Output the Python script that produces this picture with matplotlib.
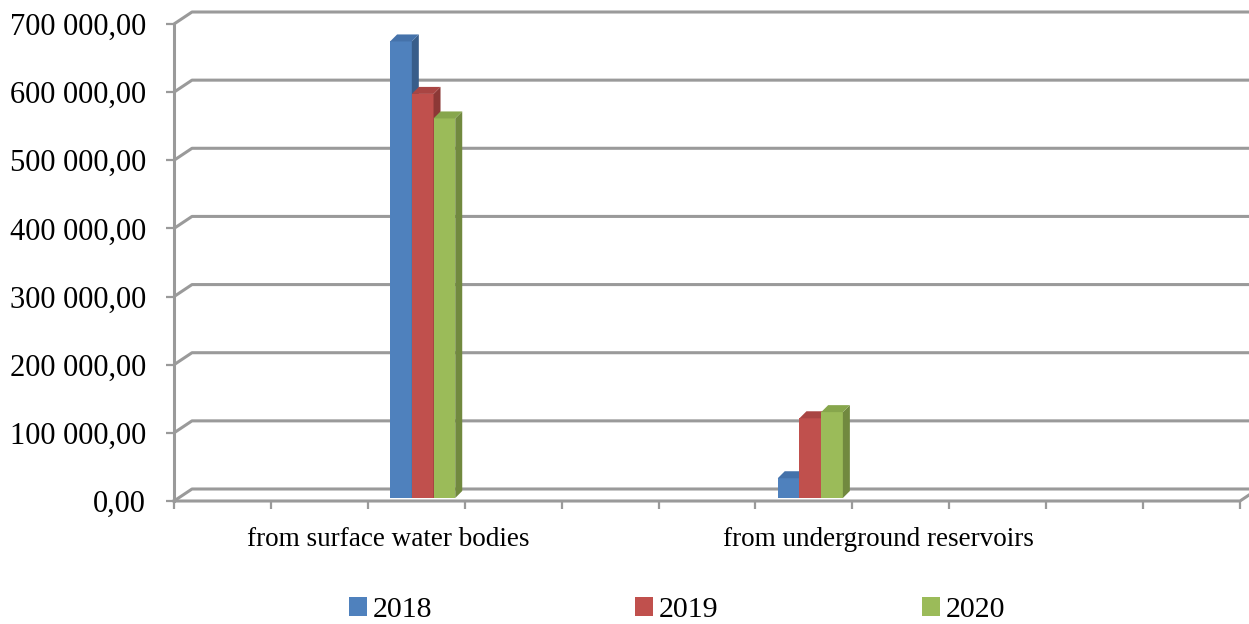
import numpy as np
import matplotlib
matplotlib.use('Agg')
import matplotlib.pyplot as plt
import matplotlib.transforms as mtransforms
from matplotlib.patches import Polygon, Patch

plt.rcParams['font.family'] = ['Liberation Serif', 'DejaVu Serif']

# data
categories = ['from surface water bodies', 'from underground reservoirs']
cat_slots = [2, 6]            # slot of each cluster on the 11-slot category axis
label_pos = [2.21, 7.27]      # where excel put the category labels
years = ['2018', '2019', '2020']
values_2018 = [670000, 29000]
values_2019 = [593000, 117000]
values_2020 = [557000, 126000]
series = [values_2018, values_2019, values_2020]
yticks = np.arange(0, 700001, 100000)
ytick_labels = ['{:,.2f}'.format(v).replace(',', ' ').replace('.', ',') for v in yticks]

colors = ['#4F81BD', '#C0504D', '#9BBB59']
side_colors = ['#385D8A', '#8C3836', '#71893F']
top_colors = ['#4572AA', '#A94543', '#87A64C']
grid_col = '#9a9a9a'

fig = plt.figure(figsize=(12.49, 6.24), dpi=100)
W, H = 1249, 624
ax = fig.add_axes([174 / W, (H - 501) / H, (1240 - 174) / W, (501 - 24) / H])
ax.set_xlim(0, 11)
ax.set_ylim(0, 700000)

ppx = (1240 - 174) / 11.0          # pixels per category slot
ppy = (501 - 24) / 700000.0        # pixels per unit value

# back wall depth
wdx, wdy = 18 / ppx, 12 / ppy
for v in yticks:
    ax.plot([0, wdx, 12], [v, v + wdy, v + wdy], color=grid_col, lw=2.2,
            clip_on=False, zorder=1, solid_capstyle='butt')

# front axes
ax.plot([0, 0], [0, 700000], color=grid_col, lw=2.2, clip_on=False, zorder=1)
ax.plot([0, 11, 11 + wdx], [0, 0, wdy], color=grid_col, lw=2.2, clip_on=False, zorder=1)
for s in ax.spines.values():
    s.set_visible(False)

# bars (pseudo 3d)
shift = mtransforms.offset_copy(ax.transData, fig=fig, x=0, y=3, units='dots')
bw = 0.224
bdx, bdy = 7 / ppx, 7 / ppy
for k, vals in enumerate(series):
    xs = np.array(cat_slots) + 0.23 + k * bw
    ax.bar(xs, vals, width=bw, align='edge', color=colors[k], transform=shift, zorder=3 + k)
    for x, v in zip(xs, vals):
        side = [(x + bw, 0), (x + bw, v), (x + bw + bdx, v + bdy), (x + bw + bdx, bdy)]
        top = [(x, v), (x + bw, v), (x + bw + bdx, v + bdy), (x + bdx, v + bdy)]
        ax.add_patch(Polygon(side, closed=True, facecolor=side_colors[k], edgecolor='none',
                             transform=shift, zorder=3 + k))
        ax.add_patch(Polygon(top, closed=True, facecolor=top_colors[k], edgecolor='none',
                             transform=shift, zorder=3 + k))

# ticks
ax.set_yticks(yticks, ytick_labels)
ax.tick_params(axis='y', length=6, width=1.6, color=grid_col, pad=14, labelsize=22)
ax.set_xticks(range(12), [''] * 12)
ax.tick_params(axis='x', which='major', length=6, width=1.6, color=grid_col)
ax.set_xticks(label_pos, categories, minor=True)
ax.tick_params(axis='x', which='minor', length=0, pad=19, labelsize=19.5)

handles = [Patch(facecolor=c) for c in colors]
fig.legend(handles, years, loc='center', bbox_to_anchor=(0.542, 0.022), ncol=3,
           frameon=False, fontsize=21.5, handlelength=0.6, handleheight=0.6,
           handletextpad=0.2, columnspacing=6.8)

fig.savefig('out.png', dpi=100)
